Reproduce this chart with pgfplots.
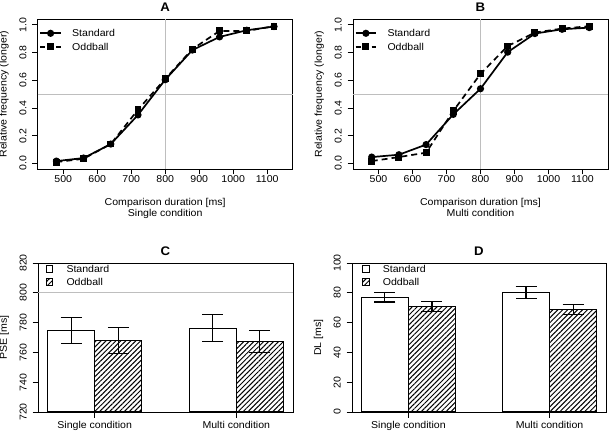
\documentclass[border=0pt]{standalone}
\usepackage{fontspec}
\setmainfont{Liberation Sans}[FakeStretch=1.06]
\usepackage{pgfplots}
\pgfplotsset{compat=1.18}
\usetikzlibrary{patterns.meta}
\definecolor{refgray}{RGB}{190,190,190}

\pgfplotsset{
  rbase/.style={
    scale only axis,
    anchor=south west,
    axis line style={line width=0.9bp},
    every tick/.style={black, line width=0.8bp},
    tick align=outside,
    major tick length=5.5bp,
    xtick pos=bottom, ytick pos=left,
    font=\fontsize{10}{12}\selectfont,
    /pgf/number format/assume math mode=true,
    yticklabel style={rotate=90, anchor=base},
    xticklabel style={anchor=base},
    every axis title/.style={at={(axis description cs:0.5,1)}, anchor=base, yshift=7.8bp,
      font=\bfseries\fontsize{12.5}{14}\selectfont},
    every axis y label/.style={at={(axis description cs:-0.1216,0.5)}, rotate=90, anchor=base},
    every axis x label/.style={at={(axis description cs:0.5,-0.2467)}, anchor=base},
    legend cell align=left,
    legend style={draw=none, fill=none, inner sep=0pt, outer sep=0pt,
      at={(axis description cs:0,1)}, anchor=north west,
      nodes={inner sep=0pt, text height=7bp, text depth=0bp}},
  },
  curve/.style={rbase, width=255bp, height=149.7bp, clip=false,
    xmin=425, xmax=1175, ymin=-0.04, ymax=1.04,
    xtick={500,600,700,800,900,1000,1100},
    ytick={0,0.2,0.4,0.6,0.8,1},
    xticklabel style={/pgf/number format/1000 sep={}},
    yticklabel style={/pgf/number format/.cd, fixed, fixed zerofill, precision=1},
    xticklabel shift=8bp, yticklabel shift=5.8bp,
    xlabel={Comparison duration [ms]},
    ylabel={Relative frequency (longer)},
    legend style={xshift=1.8bp, yshift=-10.5bp, row sep=6.4bp, column sep=10.5bp},
    legend image code/.code={%
      \draw[mark repeat=2, mark phase=2, #1] plot coordinates {(0bp,0bp) (10.25bp,0bp) (20.5bp,0bp)};},
  },
  stdline/.style={black, line width=1.7bp, solid, mark=*, mark size=2.7bp, mark options={solid}},
  oddline/.style={black, line width=1.7bp, dash pattern=on 6bp off 4bp, mark=square*, mark size=2.6bp, mark options={solid},
    legend image code/.code={%
      \draw[mark repeat=2, mark phase=2, ##1, dash pattern=on 5bp off 3bp] plot coordinates {(0bp,0bp) (10.25bp,0bp) (20.5bp,0bp)};}},
  bars/.style={rbase, width=255bp, height=149bp,
    xmin=0.8, xmax=6.2,
    xtick={2,5}, xticklabels={Single condition, Multi condition},
    xticklabel shift=11bp, yticklabel shift=5.8bp,
    legend style={xshift=7.7bp, yshift=-2.5bp, row sep=5.2bp, column sep=13.3bp},
    legend image code/.code={%
      \draw[#1, line width=0.8bp] (0bp,-3.35bp) rectangle (6.7bp,3.35bp);},
  },
  stdbar/.style={ybar, bar width=1, bar shift=0pt, draw=black, line width=1.1bp, fill=white,
    error bars/.cd, y dir=both, y explicit, error mark=|,
    error bar style={line width=1.1bp, black},
    error mark options={line width=1.1bp, mark size=10.5bp, black}},
  oddbar/.style={ybar, bar width=1, bar shift=0pt, draw=black, line width=1.1bp,
    pattern={Lines[angle=45, distance=3.5bp, line width=1bp]}, pattern color=black,
    error bars/.cd, y dir=both, y explicit, error mark=|,
    error bar style={line width=1.1bp, black},
    error mark options={line width=1.1bp, mark size=10.5bp, black}},
}

\begin{document}
\begin{tikzpicture}
\path[use as bounding box] (0,0) rectangle (609bp,432bp);

% ---------------- A ----------------
\begin{axis}[curve, at={(37.7bp,263bp)}, title={A}]
\addplot[refgray, line width=0.9bp, forget plot] coordinates {(800,-0.04) (800,1.04)};
\addplot[refgray, line width=0.9bp, forget plot] coordinates {(425,0.5) (1175,0.5)};
\addplot[stdline] coordinates {
(480,0.017) (560,0.039) (640,0.140) (720,0.350) (800,0.604) (880,0.818) (960,0.913) (1040,0.961) (1120,0.988)};
\addplot[oddline] coordinates {
(480,0.010) (560,0.034) (640,0.140) (720,0.388) (800,0.610) (880,0.825) (960,0.956) (1040,0.956) (1120,0.990)};
\legend{Standard, Oddball}
\node[anchor=base] at (axis description cs:0.5,-0.318) {Single condition};
\end{axis}

% ---------------- B ----------------
\begin{axis}[curve, at={(353bp,263bp)}, title={B}]
\addplot[refgray, line width=0.9bp, forget plot] coordinates {(800,-0.04) (800,1.04)};
\addplot[refgray, line width=0.9bp, forget plot] coordinates {(425,0.5) (1175,0.5)};
\addplot[stdline] coordinates {
(480,0.046) (560,0.063) (640,0.136) (720,0.354) (800,0.539) (880,0.803) (960,0.937) (1040,0.968) (1120,0.980)};
\addplot[oddline] coordinates {
(480,0.017) (560,0.046) (640,0.078) (720,0.379) (800,0.646) (880,0.847) (960,0.944) (1040,0.973) (1120,0.990)};
\legend{Standard, Oddball}
\node[anchor=base] at (axis description cs:0.5,-0.318) {Multi condition};
\end{axis}

% ---------------- C ----------------
\begin{axis}[bars, at={(38bp,20bp)}, title={C}, ylabel={PSE [ms]},
  ymin=720, ymax=820, ytick={720,740,760,780,800,820}]
\addplot[refgray, line width=0.9bp, forget plot] coordinates {(0.8,800) (6.2,800)};
\addplot[stdbar] coordinates {(1.5,774.7) +- (0,8.5) (4.5,776.3) +- (0,9.2)};
\addplot[oddbar] coordinates {(2.5,768.0) +- (0,9.0) (5.5,767.1) +- (0,7.4)};
\legend{Standard, Oddball}
\end{axis}

% ---------------- D ----------------
\begin{axis}[bars, at={(352bp,20bp)}, width=254bp, title={D}, ylabel={DL [ms]},
  ymin=0, ymax=100, ytick={0,20,40,60,80,100},
  legend style={xshift=2.3bp}]
\addplot[stdbar] coordinates {(1.5,77.1) +- (0,3.3) (4.5,80.2) +- (0,3.8)};
\addplot[oddbar] coordinates {(2.5,71.0) +- (0,3.3) (5.5,68.8) +- (0,3.6)};
\legend{Standard, Oddball}
\end{axis}
\end{tikzpicture}
\end{document}
